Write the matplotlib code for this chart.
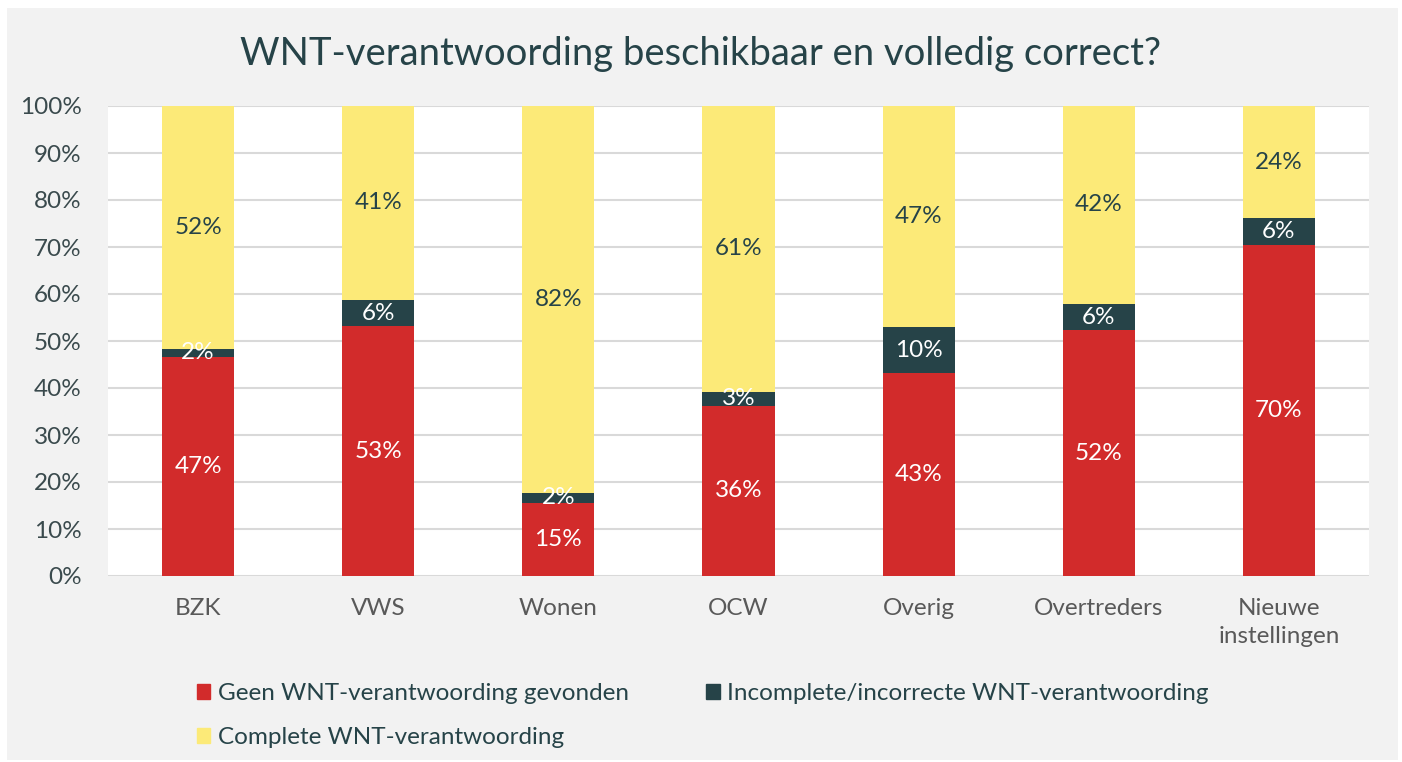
import matplotlib
matplotlib.use("Agg")
import matplotlib.pyplot as plt
from matplotlib.patches import Rectangle, Patch
from matplotlib.ticker import FuncFormatter
import numpy as np

plt.rcParams['font.family'] = ['Lato', 'DejaVu Sans']

categories = ["BZK", "VWS", "Wonen", "OCW", "Overig", "Overtreders", "Nieuwe\ninstellingen"]
geen = [46.7, 53.1, 15.6, 36.2, 43.1, 52.3, 70.5]
incompleet = [1.7, 5.7, 2.1, 3.0, 9.8, 5.6, 5.6]
compleet = [51.6, 41.2, 82.3, 60.8, 47.1, 42.1, 23.9]
labels_geen = ["47%", "53%", "15%", "36%", "43%", "52%", "70%"]
labels_incompleet = ["2%", "6%", "2%", "3%", "10%", "6%", "6%"]
labels_compleet = ["52%", "41%", "82%", "61%", "47%", "42%", "24%"]
series_names = ["Geen WNT-verantwoording gevonden",
                "Incomplete/incorrecte WNT-verantwoording",
                "Complete WNT-verantwoording"]
title = "WNT-verantwoording beschikbaar en volledig correct?"
yticks = [0, 10, 20, 30, 40, 50, 60, 70, 80, 90, 100]

RED = "#d22b2b"
DARK = "#264348"
YEL = "#fcea78"
TXT = "#264348"

W, H = 1402, 762
fig = plt.figure(figsize=(W / 100, H / 100), dpi=100, facecolor="white")
bg = Rectangle((7 / W, 1 - 760 / H), (1398 - 7) / W, (760 - 8) / H,
               transform=fig.transFigure, facecolor="#f2f2f2",
               edgecolor="none", zorder=-10)
fig.patches.append(bg)

ax = fig.add_axes([108 / W, 1 - 576 / H, (1369 - 108) / W, (576 - 106) / H])
ax.set_facecolor("white")

x = np.arange(len(categories))
bw = 0.4
b1 = ax.bar(x, geen, bw, color=RED, zorder=3, label=series_names[0])
bottom2 = np.array(geen)
b2 = ax.bar(x, incompleet, bw, bottom=bottom2, color=DARK, zorder=3, label=series_names[1])
bottom3 = bottom2 + np.array(incompleet)
b3 = ax.bar(x, compleet, bw, bottom=bottom3, color=YEL, zorder=3, label=series_names[2])

ax.bar_label(b1, labels=labels_geen, label_type="center", color="white", fontsize=17.5)
ax.bar_label(b2, labels=labels_incompleet, label_type="center", color="white", fontsize=17.5)
ax.bar_label(b3, labels=labels_compleet, label_type="center", color=TXT, fontsize=17.5)

ax.set_xlim(-0.5, len(categories) - 0.5)
ax.set_ylim(0, 100)
ax.set_yticks(yticks)
ax.yaxis.set_major_formatter(FuncFormatter(lambda v, p: f"{v:.0f}%"))
ax.grid(axis="y", color="#d9d9d9", linewidth=1.5, zorder=0)
ax.set_axisbelow(True)
for s in ax.spines.values():
    s.set_visible(False)
ax.tick_params(axis="y", length=0, pad=19, labelsize=17.5, labelcolor="#3a4a4d")
ax.tick_params(axis="x", length=0, pad=16, labelsize=17.5, labelcolor="#595959")
ax.set_xticks(x)
ax.set_xticklabels(categories, linespacing=1.4)

fig.text(0.5, 1 - 54 / H, title, ha="center", va="center", fontsize=27.5, color=TXT)

handles = [Patch(color=RED), Patch(color=YEL), Patch(color=DARK)]
names = [series_names[0], series_names[2], series_names[1]]
fig.legend(handles, names, ncol=2, loc="upper left",
           bbox_to_anchor=(175 / W, 1 - 661 / H), frameon=False,
           fontsize=17.5, labelcolor=TXT, handlelength=0.55, handleheight=0.6,
           handletextpad=0.3, columnspacing=3.2, labelspacing=0.95)

fig.savefig("out.png", dpi=100, facecolor="white")
